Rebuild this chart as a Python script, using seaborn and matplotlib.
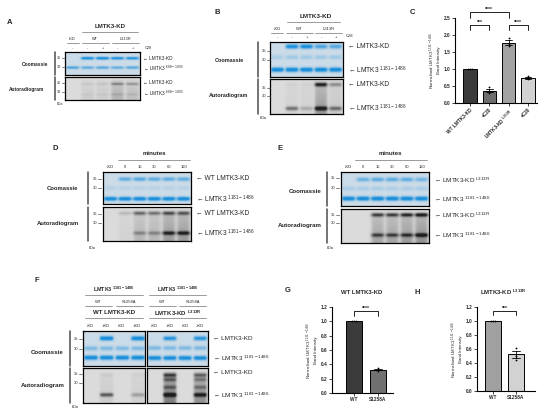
import matplotlib
matplotlib.use("Agg")

import matplotlib.pyplot as plt  # noqa: E402
import numpy as np               # noqa: E402
import pandas as pd              # noqa: E402
import seaborn as sns            # noqa: E402
from matplotlib.lines import Line2D  # noqa: E402

sns.set_theme(style="white")
plt.rcParams["font.family"] = ["Liberation Sans", "DejaVu Sans"]
plt.rcParams["mathtext.fontset"] = "custom"
plt.rcParams["mathtext.rm"] = "Liberation Sans"
plt.rcParams["mathtext.bf"] = "Liberation Sans:bold"
plt.rcParams["mathtext.default"] = "regular"

W, H = 550, 417
SUB = "LMTK3 $^{1181-1486}$"

# --------------------------------------------------------------------------- #
# Bar chart data (replicates)
# --------------------------------------------------------------------------- #
c_labels = ["WT LMTK3-KD", "+C28", "LMTK3-KD $^{L313R}$", "+C28"]
c_reps = [[1.0, 1.0, 1.0], [0.29, 0.35, 0.46], [1.68, 1.74, 1.90], [0.71, 0.73, 0.79]]
c_colors = ["#3b3b3b", "#6e6e6e", "#a3a3a3", "#d2d2d2"]

g_labels = ["WT", "S1258A"]
g_reps = [[1.0, 1.0, 1.0], [0.31, 0.32, 0.345]]
g_colors = ["#3b3b3b", "#707070"]

h_labels = ["WT", "S1258A"]
h_reps = [[1.0, 1.0, 1.0], [0.45, 0.50, 0.62]]
h_colors = ["#a0a0a0", "#d2d2d2"]

# --------------------------------------------------------------------------- #
# Gel band data: (row position from top, intensity per lane)
# --------------------------------------------------------------------------- #
a_coom = [(0.27, [0.0, 0.9, 0.95, 0.85, 0.8]), (0.68, [0.6, 0.5, 0.55, 0.5, 0.55])]
a_auto = [(0.30, [0.0, 0.06, 0.08, 0.35, 0.28]), (0.76, [0.0, 0.04, 0.04, 0.1, 0.08])]
a_smear = [0.0, 0.08, 0.08, 0.22, 0.16]

b_coom = [(0.15, [0.0, 0.85, 0.9, 0.6, 0.55]), (0.45, [0.15, 0.2, 0.2, 0.2, 0.2]),
          (0.80, [1.0, 1.0, 1.0, 1.0, 1.0])]
b_auto = [(0.18, [0.0, 0.03, 0.03, 0.85, 0.35]), (0.85, [0.0, 0.5, 0.2, 0.95, 0.5])]
b_smear = [0.0, 0.05, 0.05, 0.35, 0.1]

d_coom = [(0.22, [0.0, 0.5, 0.55, 0.5, 0.5, 0.5]), (0.50, [0.1] * 6),
          (0.84, [1.0] * 6)]
d_auto = [(0.18, [0.0, 0.15, 0.5, 0.45, 0.6, 0.55]), (0.77, [0.0, 0.0, 0.3, 0.3, 0.75, 0.8])]
d_smear = [0.0, 0.05, 0.2, 0.2, 0.35, 0.35]

e_coom = [(0.24, [0.0, 0.45, 0.5, 0.5, 0.5, 0.4]), (0.50, [0.15] * 6),
          (0.79, [1.0] * 6)]
e_auto = [(0.17, [0.0, 0.0, 0.7, 0.7, 0.8, 0.95]), (0.77, [0.0, 0.0, 0.6, 0.6, 0.65, 0.95])]
e_smear = [0.0, 0.0, 0.3, 0.3, 0.35, 0.4]

fl_coom = [(0.23, [0.0, 0.95, 0.0, 0.95]), (0.51, [0.35] * 4), (0.77, [0.95] * 4)]
fl_auto = [(0.20, [0.0, 0.05, 0.0, 0.03]), (0.77, [0.0, 0.6, 0.0, 0.25])]
fl_smear = [0.0, 0.08, 0.0, 0.06]

fr_coom = [(0.23, [0.0, 0.75, 0.0, 0.75]), (0.50, [0.35] * 4), (0.78, [0.9] * 4)]
fr_auto = [(0.20, [0.0, 0.6, 0.0, 0.45]), (0.33, [0.0, 0.4, 0.0, 0.3]),
           (0.55, [0.0, 0.35, 0.0, 0.3]), (0.77, [0.0, 1.0, 0.0, 0.8])]
fr_smear = [0.0, 0.5, 0.0, 0.4]

fig = plt.figure(figsize=(5.5, 4.17), dpi=100)
fig.patch.set_facecolor("white")


def fx(x):
    return x / W


def fy(y):
    return 1 - y / H


def rect(x0, y0, x1, y1):
    return [fx(x0), fy(y1), (x1 - x0) / W, (y1 - y0) / H]


def txt(x, y, s, size=4.0, ha="center", va="center", **kw):
    fig.text(fx(x), fy(y), s, fontsize=size, ha=ha, va=va, **kw)


def line(x0, y0, x1, y1, lw=0.5, color="0.45"):
    fig.add_artist(Line2D([fx(x0), fx(x1)], [fy(y0), fy(y1)],
                          transform=fig.transFigure, lw=lw, color=color))


def lane_centers(x0, x1, n):
    return [x0 + (x1 - x0) * (i + 0.5) / n for i in range(n)]


def gel(box, bands, smear=None, kind="coom"):
    x0, y0, x1, y1 = box
    ax = fig.add_axes(rect(x0, y0, x1, y1))
    n = len(bands[0][1])
    xs = np.linspace(0, 1, 240)
    ys = np.linspace(0, 1, 120)
    half = 0.41 / n
    inten = np.zeros((len(ys), len(xs)))
    sig = 0.06 if kind == "coom" else 0.055
    gain = 1.3 if kind == "coom" else 1.1
    for i in range(n):
        c = (i + 0.5) / n
        prof = 1 / (1 + np.exp((np.abs(xs - c) - half) / 0.01))
        for yb, amps in bands:
            inten += gain * amps[i] * np.outer(np.exp(-((ys - yb) / sig) ** 2), prof)
        if smear is not None:
            sm = 1 / (1 + np.exp(-(ys - 0.12) / 0.03)) * (0.4 + 0.6 * ys)
            inten += smear[i] * np.outer(sm, prof)
    inten = np.clip(inten, 0, 1)[..., None]
    if kind == "coom":
        bg, fg = np.array([0.80, 0.86, 0.91]), np.array([0.10, 0.56, 0.86])
    else:
        bg, fg = np.array([0.86, 0.86, 0.86]), np.array([0.12, 0.12, 0.12])
    img = bg + (fg - bg) * inten
    ax.imshow(img, extent=(0, 1, 1, 0), aspect="auto", interpolation="bilinear")
    ax.set_xlim(0, 1)
    ax.set_ylim(1, 0)
    ax.set_xticks([])
    ax.set_yticks([])
    for s in ax.spines.values():
        s.set_color("black")
        s.set_linewidth(0.9)
    return ax


def mw(x, ys, size=3.0):
    for y, lab in zip(ys, ["35", "30"]):
        txt(x, y, lab, size=size, ha="right")
        line(x + 1, y, x + 4, y, lw=0.5, color="0.3")


def bars(box, labels, reps, colors, ylim, yticks, xlim, ylabel, rot=0, size=3.4):
    ax = fig.add_axes(rect(*box))
    ids = [f"g{i}" for i in range(len(labels))]
    df = pd.DataFrame({
        "group": np.repeat(ids, [len(r) for r in reps]),
        "value": np.concatenate(reps),
    })
    sns.barplot(data=df, x="group", y="value", hue="group", order=ids,
                palette=colors, errorbar="se", capsize=0.35, width=0.7,
                edgecolor="black", linewidth=0.7, legend=False,
                err_kws={"color": "black", "linewidth": 0.6}, ax=ax)
    sns.swarmplot(data=df, x="group", y="value", order=ids, color="black",
                  size=1.3, ax=ax)
    ax.set_xlim(*xlim)
    ax.set_ylim(*ylim)
    ax.set_yticks(yticks)
    ax.set_yticklabels([f"{t:.1f}" for t in yticks], fontweight="bold")
    ax.set_xticks(range(len(labels)))
    if rot:
        ax.set_xticklabels(labels, rotation=rot, ha="right",
                           rotation_mode="anchor", fontweight="bold")
    else:
        ax.set_xticklabels(labels, fontweight="bold")
    ax.set_xlabel("")
    ax.set_ylabel(ylabel, fontsize=size - 0.2, labelpad=2, linespacing=1.1)
    ax.tick_params(axis="both", labelsize=size, length=2, width=0.6,
                   direction="out", pad=1.2, left=True, bottom=True)
    sns.despine(ax=ax)
    for s in ["left", "bottom"]:
        ax.spines[s].set_color("black")
        ax.spines[s].set_linewidth(0.8)
    return ax


def bracket(ax, x0, x1, y, drop, stars, size=3.6):
    ax.plot([x0, x0, x1, x1], [y - drop, y, y, y - drop], color="black",
            lw=0.6, clip_on=False)
    ax.text((x0 + x1) / 2, y, stars, ha="center", va="bottom",
            fontsize=size, fontweight="bold")


# --------------------------------------------------------------------------- #
# A
# --------------------------------------------------------------------------- #
txt(10, 23, "A", size=5.5, fontweight="bold")
txt(110, 26, "LMTK3-KD", size=4.4, fontweight="bold")
line(82, 32, 138, 32)
la = lane_centers(65, 140, 5)
txt(la[0], 39, "-KD", size=2.8)
txt((la[1] + la[2]) / 2, 39, "WT", size=2.8)
txt((la[3] + la[4]) / 2, 39, "L313R", size=2.8)
line(la[0] - 6, 43, la[0] + 6, 43)
line(la[1] - 6, 43, la[2] + 6, 43)
line(la[3] - 6, 43, la[4] + 6, 43)
for x, s in zip(la, ["-", "-", "+", "-", "+"]):
    txt(x, 48, s, size=2.8)
txt(148, 48, "C28", size=2.8)
gel((65, 52, 140, 75), a_coom)
gel((65, 77, 140, 100), a_auto, a_smear, kind="auto")
line(55, 52, 55, 75, lw=1.1, color="0.3")
line(55, 77, 55, 100, lw=1.1, color="0.3")
txt(35, 64, "Coomassie", size=3.5, fontweight="bold")
txt(27, 89, "Autoradiogram", size=3.5, fontweight="bold")
mw(61, [58, 67], size=2.8)
mw(61, [83, 92], size=2.8)
txt(143, 58, "← LMTK3-KD", size=3.4, ha="left")
txt(143, 68, "← LMTK3 $^{688-1095}$", size=3.4, ha="left")
txt(143, 82, "← LMTK3-KD", size=3.4, ha="left")
txt(143, 93, "← LMTK3 $^{688-1095}$", size=3.4, ha="left")
txt(60, 104, "kDa", size=2.6)

# --------------------------------------------------------------------------- #
# B
# --------------------------------------------------------------------------- #
txt(217, 13, "B", size=5.5, fontweight="bold")
txt(316, 16, "LMTK3-KD", size=4.6, fontweight="bold")
line(287, 22, 340, 22)
lb = lane_centers(270, 343, 5)
txt(lb[0], 29, "-KD", size=3.0)
txt((lb[1] + lb[2]) / 2, 29, "WT", size=3.0)
txt((lb[3] + lb[4]) / 2, 29, "L313R", size=3.0)
line(lb[0] - 6, 33, lb[0] + 6, 33)
line(lb[1] - 6, 33, lb[2] + 6, 33)
line(lb[3] - 6, 33, lb[4] + 6, 33)
for x, s in zip(lb, ["-", "-", "+", "-", "+"]):
    txt(x, 37, s, size=3.0)
txt(350, 36, "C28", size=3.0)
gel((270, 42, 343, 77), b_coom)
gel((270, 79, 343, 114), b_auto, b_smear, kind="auto")
line(258, 42, 258, 77, lw=1.1, color="0.3")
line(258, 79, 258, 114, lw=1.1, color="0.3")
txt(229, 60, "Coomassie", size=4.0, fontweight="bold")
txt(229, 96, "Autoradiogram", size=4.0, fontweight="bold")
mw(266, [51, 60], size=3.0)
mw(266, [88, 96], size=3.0)
txt(348, 47, "← LMTK3-KD", size=4.8, ha="left")
txt(348, 70, "← " + SUB, size=4.8, ha="left")
txt(348, 85, "← LMTK3-KD", size=4.8, ha="left")
txt(348, 108, "← " + SUB, size=4.8, ha="left")
txt(263, 118, "kDa", size=2.8)

# --------------------------------------------------------------------------- #
# C
# --------------------------------------------------------------------------- #
txt(412, 13, "C", size=5.5, fontweight="bold")
axc = bars((455, 18, 537, 103), c_labels, c_reps, c_colors, (0, 2.5),
           [0, 0.5, 1.0, 1.5, 2.0, 2.5], (-0.78, 3.47),
           "Normalised LMTK3 $^{1181-1486}$\nBand Intensity", rot=45, size=3.4)
bracket(axc, 0, 1, 2.3, 0.15, "***")
bracket(axc, 2, 3, 2.3, 0.15, "****")
bracket(axc, 0, 2, 2.68, 0.18, "****")

# --------------------------------------------------------------------------- #
# D
# --------------------------------------------------------------------------- #
txt(55, 148, "D", size=5.5, fontweight="bold")
txt(154, 154, "minutes", size=4.4, fontweight="bold")
line(118, 160, 190, 160)
ld = lane_centers(103, 191, 6)
for x, s in zip(ld, ["-KD", "0", "15", "30", "60", "120"]):
    txt(x, 167, s, size=3.0)
gel((103, 172, 191, 204), d_coom)
gel((103, 207, 191, 241), d_auto, d_smear, kind="auto")
line(88, 172, 88, 204, lw=1.1, color="0.3")
line(88, 207, 88, 241, lw=1.1, color="0.3")
txt(62, 188, "Coomassie", size=4.2, fontweight="bold")
txt(58, 224, "Autoradiogram", size=4.2, fontweight="bold")
mw(97, [179, 188], size=3.0)
mw(97, [214, 223], size=3.0)
txt(196, 179, "← WT LMTK3-KD", size=4.8, ha="left")
txt(196, 199, "← " + SUB, size=4.8, ha="left")
txt(196, 213, "← WT LMTK3-KD", size=4.8, ha="left")
txt(196, 233, "← " + SUB, size=4.8, ha="left")
txt(92, 248, "kDa", size=2.8)

# --------------------------------------------------------------------------- #
# E
# --------------------------------------------------------------------------- #
txt(280, 148, "E", size=5.5, fontweight="bold")
txt(390, 154, "minutes", size=4.4, fontweight="bold")
line(355, 160, 427, 160)
le = lane_centers(341, 429, 6)
for x, s in zip(le, ["-KD", "0", "15", "30", "60", "120"]):
    txt(x, 167, s, size=3.0)
gel((341, 172, 429, 206), e_coom)
gel((341, 209, 429, 243), e_auto, e_smear, kind="auto")
line(327, 172, 327, 206, lw=1.1, color="0.3")
line(327, 209, 327, 243, lw=1.1, color="0.3")
txt(305, 191, "Coomassie", size=4.4, fontweight="bold")
txt(300, 225, "Autoradiogram", size=4.4, fontweight="bold")
mw(335, [178, 188], size=3.0)
mw(335, [215, 223], size=3.0)
txt(434, 180, "← LMTK3-KD $^{L313R}$", size=4.6, ha="left")
txt(434, 199, "← " + SUB, size=4.6, ha="left")
txt(434, 215, "← LMTK3-KD $^{L313R}$", size=4.6, ha="left")
txt(434, 235, "← " + SUB, size=4.6, ha="left")
txt(330, 248, "kDa", size=2.8)

# --------------------------------------------------------------------------- #
# F
# --------------------------------------------------------------------------- #
txt(37, 281, "F", size=5.5, fontweight="bold")
for (gx0, gx1, kd) in [(83, 145, "WT LMTK3-KD"), (147, 208, "LMTK3-KD $^{L313R}$")]:
    lf = lane_centers(gx0, gx1, 4)
    cx = (gx0 + gx1) / 2
    txt(cx, 289, SUB, size=3.9, fontweight="bold")
    line(gx0 + 2, 295, gx1 - 2, 295)
    txt((lf[0] + lf[1]) / 2, 302, "WT", size=3.0)
    txt((lf[2] + lf[3]) / 2, 302, "S1258A", size=3.0)
    line(lf[0] - 6, 306, lf[1] + 6, 306)
    line(lf[2] - 6, 306, lf[3] + 6, 306)
    txt(cx, 313, kd, size=4.4, fontweight="bold")
    line(gx0 + 2, 318, gx1 - 2, 318)
    for x, s in zip(lf, ["-KD", "+KD", "-KD", "+KD"]):
        txt(x, 326, s, size=3.0)
gel((83, 331, 145, 366), fl_coom)
gel((83, 368, 145, 403), fl_auto, fl_smear, kind="auto")
gel((147, 331, 208, 366), fr_coom)
gel((147, 368, 208, 403), fr_auto, fr_smear, kind="auto")
line(70, 331, 70, 366, lw=1.1, color="0.3")
line(70, 368, 70, 403, lw=1.1, color="0.3")
txt(47, 352, "Coomassie", size=4.4, fontweight="bold")
txt(43, 386, "Autoradiogram", size=4.4, fontweight="bold")
mw(78, [339, 349], size=3.0)
mw(78, [374, 383], size=3.0)
txt(213, 339, "← LMTK3-KD", size=4.6, ha="left")
txt(213, 358, "← " + SUB, size=4.6, ha="left")
txt(213, 373, "← LMTK3-KD", size=4.6, ha="left")
txt(213, 395, "← " + SUB, size=4.6, ha="left")
txt(75, 407, "kDa", size=2.8)

# --------------------------------------------------------------------------- #
# G and H
# --------------------------------------------------------------------------- #
txt(288, 291, "G", size=5.5, fontweight="bold")
txt(362, 292, "WT LMTK3-KD", size=4.3, fontweight="bold")
axg = bars((332, 307, 393, 393), g_labels, g_reps, g_colors, (0, 1.2),
           [0, 0.2, 0.4, 0.6, 0.8, 1.0, 1.2], (-0.92, 1.63),
           "Normalised LMTK3 $^{1181-1486}$\nBand Intensity", size=3.4)
bracket(axg, 0, 1, 1.15, 0.07, "****")

txt(417, 292, "H", size=5.5, fontweight="bold")
txt(503, 292, "LMTK3-KD $^{L313R}$", size=4.3, fontweight="bold")
axh = bars((477, 307, 535, 391), h_labels, h_reps, h_colors, (0, 1.2),
           [0, 0.2, 0.4, 0.6, 0.8, 1.0, 1.2], (-0.7, 1.83),
           "Normalised LMTK3 $^{1181-1486}$\nBand Intensity", size=3.4)
bracket(axh, 0, 1, 1.15, 0.07, "***")

fig.savefig("out.png", dpi=100, facecolor="white")
